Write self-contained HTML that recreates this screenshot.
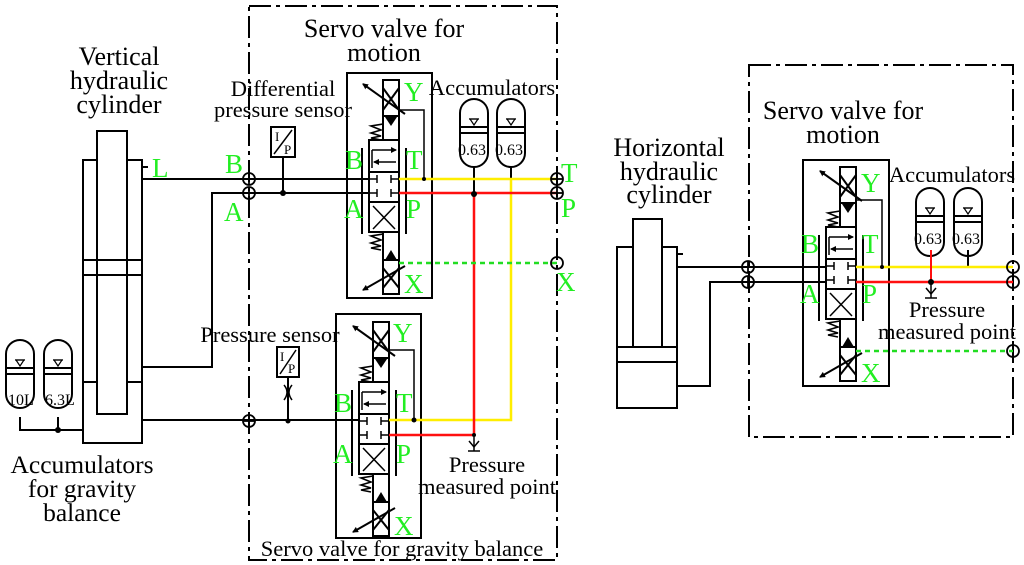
<!DOCTYPE html>
<html><head><meta charset="utf-8"><style>
html,body{margin:0;padding:0;background:#fff;}
svg{display:block;}
text{font-family:"Liberation Serif",serif;}
.g{fill:#22ee22;font-family:"Liberation Serif",serif;}
</style></head><body>
<svg width="1024" height="565" viewBox="0 0 1024 565" xmlns="http://www.w3.org/2000/svg">
<defs>
<marker id="ar" markerWidth="6" markerHeight="6" refX="5" refY="3" orient="auto" markerUnits="userSpaceOnUse"><path d="M0,0 L6,3 L0,6 z" fill="#000"/></marker>
<g id="valve" fill="none" stroke="#000" stroke-width="2">
 <rect x="14" y="0" width="16" height="36"/>
 <line x1="14" y1="8" x2="30" y2="30"/><line x1="30" y1="8" x2="14" y2="30"/>
 <line x1="36" y1="34" x2="-6" y2="4" marker-end="url(#ar)"/>
 <polygon points="16,37 28,37 22,46" fill="#000" stroke="none"/>
 <line x1="14" y1="36" x2="14" y2="60"/><line x1="30" y1="36" x2="30" y2="60"/>
 <polyline points="14,44 2,46 12,50 2,53 12,56 2,58 12,60" stroke-width="1.6"/>
 <rect x="0" y="60" width="30" height="92"/>
 <line x1="0" y1="92" x2="30" y2="92"/><line x1="0" y1="122" x2="30" y2="122"/>
 <line x1="3" y1="70" x2="27" y2="70" marker-end="url(#ar)" stroke-width="1.5"/>
 <line x1="3" y1="70" x2="3" y2="88" stroke-width="1.5"/>
 <line x1="27" y1="82" x2="5" y2="82" marker-end="url(#ar)" stroke-width="1.5"/>
 <line x1="0" y1="99" x2="8" y2="99" stroke-width="1.5"/><line x1="8" y1="95" x2="8" y2="103" stroke-width="1.5"/>
 <line x1="22" y1="99" x2="30" y2="99" stroke-width="1.5"/><line x1="22" y1="95" x2="22" y2="103" stroke-width="1.5"/>
 <line x1="0" y1="113" x2="8" y2="113" stroke-width="1.5"/><line x1="8" y1="109" x2="8" y2="117" stroke-width="1.5"/>
 <line x1="22" y1="113" x2="30" y2="113" stroke-width="1.5"/><line x1="22" y1="109" x2="22" y2="117" stroke-width="1.5"/>
 <line x1="4" y1="126" x2="26" y2="149" stroke-width="1.5"/><line x1="26" y1="126" x2="4" y2="149" stroke-width="1.5"/>
 <line x1="-7" y1="68" x2="-7" y2="154"/><line x1="37" y1="68" x2="37" y2="154"/>
 <line x1="14" y1="152" x2="14" y2="180"/><line x1="30" y1="152" x2="30" y2="180"/>
 <polyline points="14,154 2,156 12,160 2,163 12,166 2,168 12,170" stroke-width="1.6"/>
 <polygon points="16,180 28,180 22,170" fill="#000" stroke="none"/>
 <rect x="14" y="180" width="16" height="34"/>
 <line x1="14" y1="188" x2="30" y2="208"/><line x1="30" y1="188" x2="14" y2="208"/>
 <line x1="36" y1="186" x2="-6" y2="210" marker-end="url(#ar)"/>
</g>
<g id="acc" fill="none" stroke="#000" stroke-width="2">
 <path d="M0,14 A14,14 0 0 1 28,14 L28,54 A14,14 0 0 1 0,54 Z"/>
 <line x1="0" y1="28" x2="28" y2="28"/><line x1="0" y1="34" x2="28" y2="34"/>
 <polygon points="10,20 18,20 14,26" stroke-width="1.2"/>
 <line x1="9" y1="20" x2="19" y2="20" stroke-width="1.2"/>
</g>
<g id="cx" fill="none" stroke="#000" stroke-width="1.8">
 <circle cx="0" cy="0" r="6"/><line x1="-6" y1="0" x2="6" y2="0"/><line x1="0" y1="-6" x2="0" y2="6"/>
</g>
<g id="oc" fill="none" stroke="#000" stroke-width="1.8"><circle cx="0" cy="0" r="6"/></g>
<g id="pm" fill="none" stroke="#000" stroke-width="1.5">
 <line x1="0" y1="0" x2="0" y2="14"/><path d="M-5,4 L0,10 L5,4"/><line x1="-6" y1="14" x2="6" y2="14"/>
</g>
</defs>

<g fill="none" stroke="#000" stroke-width="2" stroke-dasharray="22,5,4,5">
 <rect x="249" y="6" width="308" height="554"/>
 <rect x="749" y="65" width="264" height="372"/>
</g>

<g fill="none" stroke="#000" stroke-width="2">
 <rect x="97" y="131" width="30" height="283"/>
 <polyline points="97,160 83,160 83,443 142,443 142,160 127,160"/>
 <line x1="83" y1="260" x2="142" y2="260"/><line x1="83" y1="275" x2="142" y2="275"/>
 <line x1="83" y1="382" x2="97" y2="382"/><line x1="127" y1="382" x2="142" y2="382"/>
 <line x1="142" y1="167" x2="148" y2="167"/>
 <line x1="142" y1="179" x2="369" y2="179"/>
 <polyline points="142,367 212,367 212,193 369,193"/>
 <line x1="142" y1="420" x2="359" y2="420"/>
 <polyline points="20,417 20,430 83,430"/>
 <line x1="58" y1="417" x2="58" y2="430"/>
</g>
<circle cx="58" cy="430" r="3"/>
<use href="#acc" x="6" y="340"/>
<use href="#acc" x="44" y="340"/>
<text x="8" y="405" font-size="16">10L</text>
<text x="45" y="405" font-size="16">6.3L</text>

<rect x="347" y="73" width="85" height="225" fill="none" stroke="#000" stroke-width="2"/>
<use href="#valve" x="369" y="80"/>
<polyline points="399,110 424,110 424,179" fill="none" stroke="#000" stroke-width="1.5"/>
<use href="#acc" x="460" y="99"/>
<use href="#acc" x="497" y="99"/>
<text x="458" y="155" font-size="16">0.63</text>
<text x="495" y="155" font-size="16">0.63</text>
<line x1="474" y1="167" x2="474" y2="193" stroke="#000" stroke-width="2"/>
<line x1="511" y1="167" x2="511" y2="179" stroke="#000" stroke-width="2"/>
<rect x="336" y="314" width="85" height="224" fill="none" stroke="#000" stroke-width="2"/>
<use href="#valve" x="359" y="322"/>
<polyline points="389,350 414,350 414,420" fill="none" stroke="#000" stroke-width="1.5"/>

<g fill="none" stroke-width="2.5">
 <line x1="399" y1="179" x2="557" y2="179" stroke="#ffee00"/>
 <polyline points="511,179 511,420 389,420" stroke="#ffee00"/>
 <line x1="399" y1="193" x2="557" y2="193" stroke="#ff1010"/>
 <polyline points="474,193 474,435 389,435" stroke="#ff1010"/>
 <line x1="399" y1="263" x2="557" y2="263" stroke="#22dd22" stroke-dasharray="5,4"/>
</g>
<circle cx="474" cy="194" r="3"/>
<circle cx="474" cy="435" r="2"/>
<circle cx="414" cy="420" r="2.5"/>
<circle cx="424" cy="179" r="2"/>
<use href="#pm" x="474" y="437"/>

<use href="#cx" x="249" y="179"/><use href="#cx" x="249" y="193"/><use href="#cx" x="249" y="421"/>
<use href="#cx" x="557" y="179"/><use href="#cx" x="557" y="193"/><use href="#oc" x="557" y="263"/>

<rect x="271" y="127" width="24" height="30" fill="none" stroke="#000" stroke-width="2"/>
<line x1="274" y1="154" x2="292" y2="130" stroke="#000" stroke-width="1.5"/>
<text x="275" y="141" font-size="13">I</text><text x="284" y="154" font-size="13">P</text>
<line x1="283" y1="157" x2="283" y2="193" stroke="#000" stroke-width="2"/>
<circle cx="283" cy="193" r="3"/>
<rect x="277" y="347" width="22" height="30" fill="none" stroke="#000" stroke-width="2"/>
<line x1="280" y1="374" x2="296" y2="350" stroke="#000" stroke-width="1.5"/>
<text x="280" y="361" font-size="13">I</text><text x="288" y="373" font-size="13">P</text>
<line x1="288" y1="377" x2="288" y2="421" stroke="#000" stroke-width="2"/>
<path d="M284,385 Q290,392 284,400 M292,385 Q286,392 292,400" fill="none" stroke="#000" stroke-width="1.5"/>
<circle cx="288" cy="421" r="2.5"/>

<g fill="none" stroke="#000" stroke-width="2">
 <rect x="633" y="219" width="29" height="128"/>
 <polyline points="633,247 617,247 617,408 677,408 677,247 662,247"/>
 <line x1="617" y1="347" x2="677" y2="347"/><line x1="617" y1="362" x2="677" y2="362"/>
 <line x1="677" y1="254" x2="683" y2="254"/>
 <line x1="677" y1="267" x2="826" y2="267"/>
 <polyline points="677,386 710,386 710,282 826,282"/>
 <rect x="803" y="160" width="86" height="226"/>
 <polyline points="856,200 882,200 882,267" stroke-width="1.5"/>
 <line x1="931" y1="250" x2="931" y2="282"/>
 <line x1="968" y1="250" x2="968" y2="267"/>
</g>
<use href="#valve" x="826" y="167"/>
<use href="#acc" x="916" y="188"/>
<use href="#acc" x="954" y="188"/>
<text x="914" y="244" font-size="16">0.63</text>
<text x="952" y="244" font-size="16">0.63</text>
<g fill="none" stroke-width="2.5">
 <line x1="856" y1="267" x2="1013" y2="267" stroke="#ffee00"/>
 <line x1="856" y1="282" x2="1013" y2="282" stroke="#ff1010"/>
 <line x1="856" y1="351" x2="1013" y2="351" stroke="#22dd22" stroke-dasharray="5,4"/>
</g>
<line x1="931" y1="250" x2="931" y2="282" stroke="#ff1010" stroke-width="2"/>
<circle cx="931" cy="282" r="3"/>
<circle cx="882" cy="267" r="2"/>
<use href="#pm" x="931" y="284"/>
<use href="#cx" x="748" y="267"/><use href="#cx" x="748" y="282"/>
<use href="#oc" x="1013" y="267"/><use href="#oc" x="1013" y="282"/><use href="#oc" x="1013" y="351"/>

<g font-size="26" text-anchor="middle" fill="#000">
 <text x="119" y="65">Vertical</text><text x="119" y="89">hydraulic</text><text x="119" y="113">cylinder</text>
 <text x="384" y="37">Servo valve for</text><text x="384" y="61">motion</text>
 <text x="669" y="156">Horizontal</text><text x="669" y="180">hydraulic</text><text x="669" y="203">cylinder</text>
 <text x="843" y="119">Servo valve for</text><text x="843" y="143">motion</text>
</g>
<g font-size="25.5" text-anchor="middle" fill="#000">
 <text x="82" y="473">Accumulators</text><text x="82" y="497">for gravity</text><text x="82" y="521">balance</text>
</g>
<g font-size="22.5" text-anchor="middle" fill="#000">
 <text x="283" y="96">Differential</text><text x="283" y="117">pressure sensor</text>
 <text x="492" y="95">Accumulators</text>
 <text x="270" y="342">Pressure sensor</text>
 <text x="487" y="472">Pressure</text><text x="487" y="494">measured point</text>
 <text x="402" y="556">Servo valve for gravity balance</text>
 <text x="952" y="182">Accumulators</text>
 <text x="947" y="317">Pressure</text><text x="947" y="339">measured point</text>
</g>
<g class="g" font-size="27">
 <text x="152" y="177">L</text>
 <text x="225" y="173">B</text><text x="224" y="221">A</text>
 <text x="345" y="169">B</text><text x="406" y="169">T</text><text x="344" y="218">A</text><text x="406" y="218">P</text>
 <text x="404" y="101">Y</text><text x="404" y="293">X</text>
 <text x="561" y="182">T</text><text x="561" y="217">P</text><text x="556" y="291">X</text>
 <text x="393" y="342">Y</text><text x="334" y="412">B</text><text x="396" y="412">T</text>
 <text x="333" y="463">A</text><text x="396" y="463">P</text><text x="394" y="535">X</text>
 <text x="861" y="192">Y</text><text x="801" y="253">B</text><text x="862" y="253">T</text>
 <text x="800" y="303">A</text><text x="862" y="303">P</text><text x="861" y="382">X</text>
</g>
</svg>
</body></html>
